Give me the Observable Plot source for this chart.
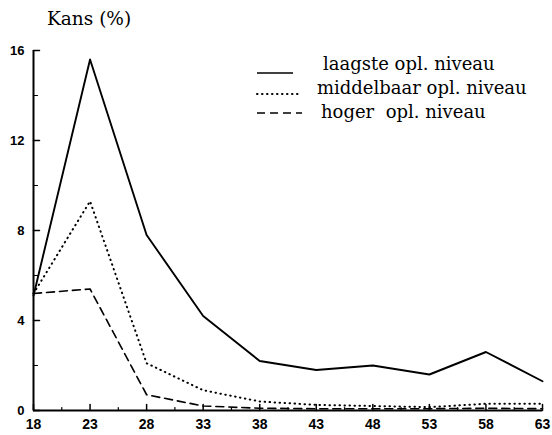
<!DOCTYPE html>
<html>
<head>
<meta charset="utf-8">
<style>
  html, body { margin: 0; padding: 0; background: #fff; }
  #chart { position: relative; width: 552px; height: 435px; }
  #overlay { position: absolute; left: 0; top: 0; pointer-events: none; }
  .preload { position: absolute; left: -9999px; top: 0; opacity: 0; font-size: 18px; }
</style>
</head>
<body>
<span class="preload" style="font-family:'DejaVu Serif'">Kans laagste middelbaar hoger opl. niveau</span>
<span class="preload" style="font-family:'Liberation Serif'">Kans laagste middelbaar hoger opl. niveau</span>
<svg class="preload" width="10" height="10"><text x="0" y="9" style="font-family:'DejaVu Serif';font-size:18px">Kans</text></svg>
<script src="https://cdn.jsdelivr.net/npm/d3@7"></script>
<script src="https://cdn.jsdelivr.net/npm/@observablehq/plot@0.6"></script>
<div id="chart"></div>
<script>
const ages = [18, 23, 28, 33, 38, 43, 48, 53, 58, 63];
const laagste = [5.1, 15.6, 7.8, 4.2, 2.2, 1.8, 2.0, 1.6, 2.6, 1.3];
const middelbaar = [5.2, 9.3, 2.1, 0.9, 0.4, 0.25, 0.2, 0.15, 0.3, 0.3];
const hoger = [5.2, 5.4, 0.7, 0.2, 0.1, 0.08, 0.08, 0.08, 0.1, 0.08];
const seriesNames = ["laagste opl. niveau", "middelbaar opl. niveau", "hoger  opl. niveau"];
const yTicks = [0, 4, 8, 12, 16];
const yMinor = [2, 6, 10, 14];
const xTicks = ages;
const xMinor = [20.5, 25.5, 30.5, 35.5, 40.5, 45.5, 50.5, 55.5, 60.5];
const titleText = "Kans (%)";

const toRows = (vals) => ages.map((a, i) => ({age: a, value: vals[i]}));
const tickShape = {draw(ctx, l) { ctx.moveTo(0, 0); ctx.lineTo(0, -l); }};

const plot = Plot.plot({
  width: 552,
  height: 435,
  marginLeft: 33,
  marginRight: 10,
  marginTop: 50,
  marginBottom: 25,
  style: {fontFamily: "Liberation Sans", fontSize: "13px", color: "#000", background: "#fff"},
  x: {domain: [18, 63]},
  y: {domain: [0, 16]},
  marks: [
    Plot.ruleX([18], {stroke: "#000", strokeWidth: 2}),
    Plot.ruleY([0], {stroke: "#000", strokeWidth: 2}),
    Plot.vector(yTicks, {y: d => d, frameAnchor: "left", rotate: 90, length: 6, anchor: "start", shape: tickShape, stroke: "#000", strokeWidth: 1.5}),
    Plot.vector(yMinor, {y: d => d, frameAnchor: "left", rotate: 90, length: 4, anchor: "start", shape: tickShape, stroke: "#000", strokeWidth: 1.2}),
    Plot.vector(xTicks, {x: d => d, frameAnchor: "bottom", length: 6, anchor: "start", shape: tickShape, stroke: "#000", strokeWidth: 1.5}),
    Plot.vector(xMinor, {x: d => d, frameAnchor: "bottom", length: 3, anchor: "start", shape: tickShape, stroke: "#000", strokeWidth: 1.2}),
    Plot.axisY({ticks: yTicks, tickSize: 0, tickPadding: 9, label: null, fontSize: 13, fontWeight: "bold"}),
    Plot.axisX({ticks: xTicks, tickSize: 0, tickPadding: 9, label: null, fontSize: 14, fontWeight: "bold"}),
    Plot.line(toRows(hoger), {x: "age", y: "value", stroke: "#000", strokeWidth: 1.6, strokeDasharray: "8,5"}),
    Plot.line(toRows(middelbaar), {x: "age", y: "value", stroke: "#000", strokeWidth: 2, strokeDasharray: "0.5,4.5", strokeLinecap: "round"}),
    Plot.line(toRows(laagste), {x: "age", y: "value", stroke: "#000", strokeWidth: 1.9})
  ]
});

const chart = document.getElementById("chart");
chart.appendChild(plot);

// Title and legend in a separate overlay SVG (serif text like the original)
const ov = d3.select(chart).append("svg").attr("id", "overlay")
  .attr("width", 552).attr("height", 435);

const serifCss = "font-family:'DejaVu Serif','Liberation Serif',serif;";
ov.append("text").attr("x", 47).attr("y", 25)
  .attr("style", serifCss + "font-size:18.5px")
  .attr("fill", "#000").text(titleText);

const legendDash = [null, "0.5,4.5", "8,5"];
const legendLine = [[257, 293, 73], [257, 300, 94], [257, 302, 113]];
const legendTextX = [323, 317, 321];
const legendBase = [70, 94, 118];
seriesNames.forEach((name, i) => {
  const [x1, x2, y] = legendLine[i];
  const ln = ov.append("line").attr("x1", x1).attr("x2", x2).attr("y1", y).attr("y2", y)
    .attr("stroke", "#000").attr("stroke-width", i === 1 ? 2 : 1.6);
  if (legendDash[i]) ln.attr("stroke-dasharray", legendDash[i]).attr("stroke-linecap", i === 1 ? "round" : "butt");
  ov.append("text").attr("x", legendTextX[i]).attr("y", legendBase[i])
    .attr("style", serifCss + "font-size:18px;white-space:pre")
    .attr("fill", "#000").text(name);
});
</script>
</body>
</html>
